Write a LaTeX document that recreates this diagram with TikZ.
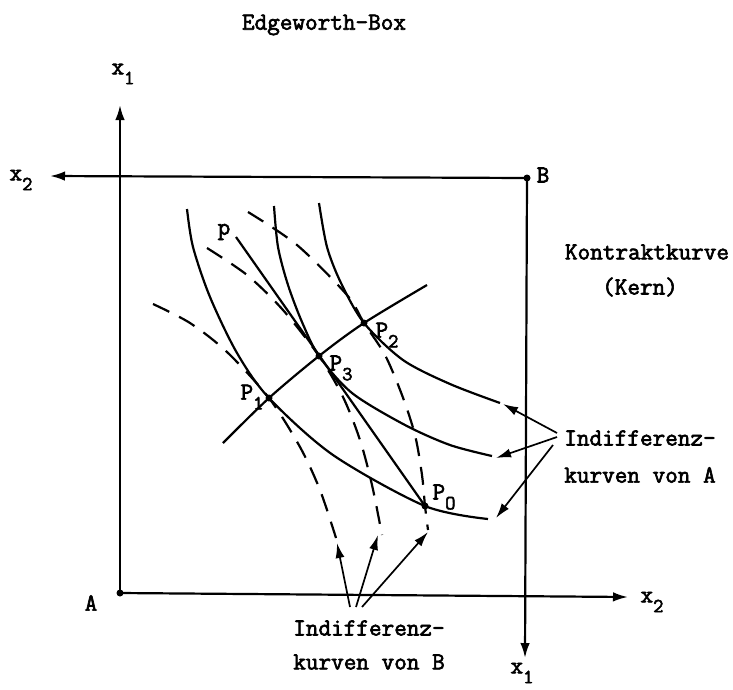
\documentclass[tikz,border=0pt]{standalone}
\usepackage{fontspec}
\newfontfamily\twfont{Latin Modern Mono}[FakeBold=2.6]
\usetikzlibrary{arrows.meta}
\newcommand{\lowsub}[1]{\raisebox{-0.4em}{\fontsize{20}{20}\selectfont #1}}
\begin{document}
\begin{tikzpicture}[x=1pt,y=-1pt,line width=2.2pt,
  txt/.style={font=\fontsize{24.5}{28}\twfont, inner sep=0pt},
  dsh/.style={dash pattern=on 18pt off 11pt},
  arr/.style={-{Latex[length=15pt,width=9.5pt]}},
  sarr/.style={line width=1.7pt,-{Latex[length=15pt,width=9pt]}}]
\useasboundingbox (0,0) rectangle (733,689);

% box corners and axis ends
\coordinate (A) at (120,593);
\coordinate (B) at (527,178);
\coordinate (Aup) at (120,105);
\coordinate (Aright) at (628,597);
\coordinate (Bleft) at (50,176);
\coordinate (Bdown) at (525,658);

\draw[arr] (A) -- (Aup);
\draw[arr] (A) -- (Aright);
\draw[arr] (B) -- (Bleft);
\draw[arr] (B) -- (Bdown);
\fill (A) circle (3.5);
\fill (B) circle (3.5);

% points
\coordinate (P1) at (269,398);
\coordinate (P3) at (319,356);
\coordinate (P2) at (364,323);
\coordinate (P0) at (425,506);
\coordinate (p) at (236,237);
\coordinate (K1) at (223,443);
\coordinate (K2) at (427,285);

% contract curve
\draw plot[smooth] coordinates {(K1) (P1) (P3) (P2) (K2)};

% straight line p - P0
\draw (p) -- (P0);

% indifference curves of A (solid)
\draw plot[smooth] coordinates {(187,209) (193,247) (210,297) (237,353) (P1) (333,455) (P0) (488,519)};
\draw plot[smooth] coordinates {(274,206) (278,247) (288,285) (302,322) (P3) (352,393) (405,425) (450,445) (492,456)};
\draw plot[smooth] coordinates {(319,203) (327,247) (341,283) (P2) (403,360) (450,384) (500,403)};

% indifference curves of B (dashed)
\draw[dsh] plot[smooth] coordinates {(153,304) (190,323) (227,352) (P1) (300,447) (320,490) (336,538)};
\draw[dsh] plot[smooth] coordinates {(207,248) (247,275) (283,310) (P3) (343,397) (360,440) (372,485) (382,535)};
\draw[dsh] plot[smooth] coordinates {(248,212) (297,245) (347,295) (P2) (385,355) (402,395) (415,435) (422,475) (P0) (428,530)};

% point dots
\foreach \q in {P1,P2,P3,P0} \fill (\q) circle (3.5);

% point labels
\node[txt] (lp) at (224,232) {p};
\node[txt] (lP1) at (252,397) {P\lowsub{1}};
\node[txt] (lP3) at (341,368) {P\lowsub{3}};
\node[txt] (lP2) at (387,335) {P\lowsub{2}};
\node[txt] (lP0) at (444,497) {P\lowsub{O}};

% axis labels
\node[txt] (title) at (324,25) {Edgeworth-Box};
\node[txt] (x1top) at (123,74) {x\lowsub{1}};
\node[txt] (x2left) at (21,180) {x\lowsub{2}};
\node[txt] (x2right) at (652,602) {x\lowsub{2}};
\node[txt] (x1bot) at (522,673) {x\lowsub{1}};
\node[txt] (lA) at (91,603) {A};
\node[txt] (lB) at (543,175) {B};

% Kontraktkurve
\node[txt] (kk) at (647,252) {Kontraktkurve};
\node[txt] (kern) at (640,287) {(Kern)};

% labels A
\node[txt] (iA1) at (640,438) {Indifferenz-};
\node[txt] (iA2) at (640,475) {kurven von A};
\coordinate (tA1) at (557,433);
\coordinate (tA2) at (557,437);
\coordinate (tA3) at (553,445);
\coordinate (hA1) at (503,404);
\coordinate (hA2) at (496,458);
\coordinate (hA3) at (496,518);
\draw[sarr] (tA1) -- (hA1);
\draw[sarr] (tA2) -- (hA2);
\draw[sarr] (tA3) -- (hA3);

% labels B
\node[txt] (iB1) at (369,628) {Indifferenz-};
\node[txt] (iB2) at (369,662) {kurven von B};
\coordinate (tB1) at (350,607);
\coordinate (tB2) at (356,607);
\coordinate (tB3) at (362,607);
\coordinate (hB1) at (337,543);
\coordinate (hB2) at (378,535);
\coordinate (hB3) at (428,532);
\draw[sarr] (tB1) -- (hB1);
\draw[sarr] (tB2) -- (hB2);
\draw[sarr] (tB3) -- (hB3);
\end{tikzpicture}
\end{document}
